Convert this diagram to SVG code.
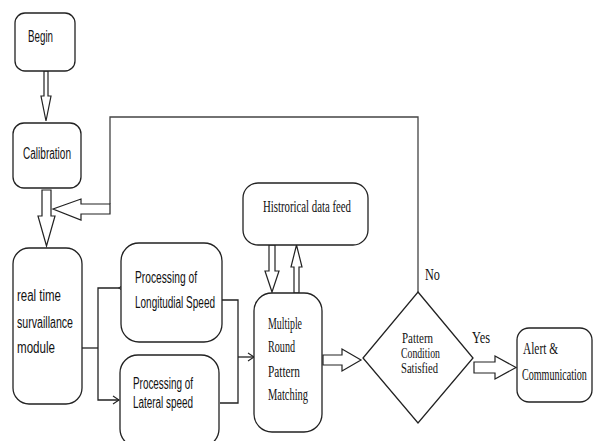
<svg xmlns="http://www.w3.org/2000/svg" width="594" height="441" viewBox="0 0 594 441">
<style>
.box{fill:#fff;stroke:#222;stroke-width:1.3}
.hol{fill:#fff;stroke:#222;stroke-width:1.2;stroke-linejoin:miter}
.ln{fill:none;stroke:#222;stroke-width:1.3}
.sans{font-family:"Liberation Sans",Arial,sans-serif;font-size:16px;fill:#111}
.ser{font-family:"Liberation Serif","Times New Roman",serif;font-size:16px;fill:#111}
.dia{font-size:14px}
</style>
<defs>
<marker id="open" markerWidth="8" markerHeight="10" refX="7" refY="5" orient="auto" markerUnits="userSpaceOnUse">
<path d="M1,1 L7,5 L1,9" fill="none" stroke="#222" stroke-width="1.1"/>
</marker>
</defs>
<rect width="594" height="441" fill="#fff"/>
<g id="connectors">
<polygon class="hol" points="44,71 48,71 48,96 51,96 46,121 41,96 44,96"/>
<polygon class="hol" points="42,190 51,190 51,216 55,216 46.5,246 38,216 42,216"/>
<polyline class="ln" points="418,292 418,117 110,117 110,204" style="stroke:#444"/>
<polygon class="hol" points="110,204 110,214 81,214 81,220 53,209 81,199 81,204"/>
<polyline class="ln" points="82,348 98,348"/>
<polyline class="ln" points="119,288 98,288 98,400 119,400" marker-start="url(#open)" marker-end="url(#open)"/>
<polyline class="ln" points="222,300 238,300 238,403 220,403"/>
<line class="ln" x1="238" y1="357" x2="254" y2="357" marker-end="url(#open)"/>
<polygon class="hol" points="269,245 275,245 275,271 279,271 272,292 265,271 269,271"/>
<polygon class="hol" points="294,293 299,293 299,267 302,267 296.5,245 291,267 294,267"/>
<polygon class="hol" points="323,355 342,355 342,349 361,360 342,371 342,365 323,365"/>
<polygon class="hol" points="474,362 495,362 495,356 516,367.5 495,379 495,373 474,373"/>
<text class="ser" x="425" y="280" textLength="15" lengthAdjust="spacingAndGlyphs">No</text>
<text class="ser" x="472" y="343" textLength="18" lengthAdjust="spacingAndGlyphs">Yes</text>
</g>
<g id="begin">
<rect class="box" x="15" y="13" width="60" height="58" rx="10"/>
<text class="sans" x="28" y="42" textLength="25" lengthAdjust="spacingAndGlyphs">Begin</text>
</g>
<g id="calibration">
<rect class="box" x="13" y="123" width="68" height="65" rx="11"/>
<text class="sans" x="23" y="159" textLength="48" lengthAdjust="spacingAndGlyphs">Calibration</text>
</g>
<g id="realtime">
<rect class="box" x="13" y="248" width="69" height="156" rx="16"/>
<text class="sans" x="17" y="301" textLength="44" lengthAdjust="spacingAndGlyphs">real time</text>
<text class="sans" x="17" y="328" textLength="56" lengthAdjust="spacingAndGlyphs">survaillance</text>
<text class="sans" x="17" y="353" textLength="38" lengthAdjust="spacingAndGlyphs">module</text>
</g>
<g id="longitudinal">
<rect class="box" x="121" y="243" width="101" height="99" rx="18"/>
<text class="sans" x="135" y="283" textLength="62" lengthAdjust="spacingAndGlyphs">Processing of</text>
<text class="sans" x="135" y="308" textLength="80" lengthAdjust="spacingAndGlyphs">Longitudial Speed</text>
</g>
<g id="lateral">
<rect class="box" x="120" y="355" width="99" height="92" rx="18"/>
<text class="sans" x="133" y="389" textLength="60" lengthAdjust="spacingAndGlyphs">Processing of</text>
<text class="sans" x="133" y="408" textLength="60" lengthAdjust="spacingAndGlyphs">Lateral speed</text>
</g>
<g id="historical">
<rect class="box" x="243" y="183" width="125" height="62" rx="15"/>
<text class="ser" x="263" y="212" textLength="88" lengthAdjust="spacingAndGlyphs">Histrorical data feed</text>
</g>
<g id="matching">
<rect class="box" x="254" y="293" width="68" height="139" rx="18"/>
<text class="ser" x="268" y="329" textLength="34" lengthAdjust="spacingAndGlyphs">Multiple</text>
<text class="ser" x="268" y="352" textLength="27" lengthAdjust="spacingAndGlyphs">Round</text>
<text class="ser" x="268" y="377" textLength="32" lengthAdjust="spacingAndGlyphs">Pattern</text>
<text class="ser" x="268" y="400" textLength="40" lengthAdjust="spacingAndGlyphs">Matching</text>
</g>
<g id="decision">
<polygon class="box" points="418,292 473,358 418,423 363,358"/>
<text class="ser dia" x="402" y="343" textLength="31" lengthAdjust="spacingAndGlyphs">Pattern</text>
<text class="ser dia" x="401" y="358" textLength="39" lengthAdjust="spacingAndGlyphs">Condition</text>
<text class="ser dia" x="401" y="373" textLength="37" lengthAdjust="spacingAndGlyphs">Satisfied</text>
</g>
<g id="alert">
<rect class="box" x="517" y="328" width="75" height="74" rx="12"/>
<text class="ser" x="523" y="354" textLength="35" lengthAdjust="spacingAndGlyphs">Alert &amp;</text>
<text class="ser" transform="translate(522,380) scale(0.63,1)" x="0" y="0">Communication</text>
</g>
</svg>
